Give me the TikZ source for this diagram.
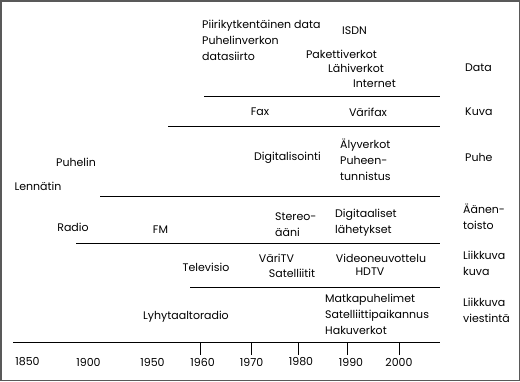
\documentclass[tikz,border=0pt]{standalone}
\usepackage{fontspec}
\setmainfont{Poppins}
\begin{document}
\begin{tikzpicture}[x=1pt,y=-1pt,font=\fontsize{11}{16}\selectfont,
  txt/.style={inner sep=0pt},
  blk/.style={inner sep=0pt,anchor=west,align=left},
  era/.style={line width=0.8pt},
  yr/.style={inner sep=0pt}]
\useasboundingbox (0,0) rectangle (520,381);
\draw[gray!70!black,line width=1.5pt] (0.75,0.75) rectangle (519.25,380.25);
% dividers between the fields
\draw[era] (204,96) -- (440,96);
\draw[era] (168,126) -- (440,126);
\draw[era] (100,196) -- (440,196);
\draw[era] (76,243) -- (440,243);
\draw[era] (190,287) -- (440,287);
\draw[era] (13,342) -- (440,342);
% time axis
\foreach \x in {200,251,298,347,399} {\draw[era] (\x,342) -- (\x,355);}
\foreach \x/\y in {27.5/1850,88.5/1900,152.5/1950,202.5/1960,251.5/1970,301/1980,351/1990,399/2000}
  {\node[yr] (y\y) at (\x,362) {\y};}
% Data
\node[blk] (piiri) at (202,40) {Piirikytkentäinen data\\Puhelinverkon\\datasiirto};
\node[txt] (isdn) at (354.5,31) {ISDN};
\node[txt] (paketti) at (341.5,54) {Pakettiverkot};
\node[txt] (lahi) at (356,68) {Lähiverkot};
\node[txt] (inet) at (374.5,84) {Internet};
\node[blk] (data) at (465,68) {Data};
% Kuva
\node[txt] (fax) at (260,112) {Fax};
\node[txt] (varifax) at (368,112) {Värifax};
\node[blk] (kuva) at (465,112) {Kuva};
% Puhe
\node[txt] (puhelin) at (76,162) {Puhelin};
\node[txt] (lennatin) at (38,186) {Lennätin};
\node[txt] (digi) at (287.5,158) {Digitalisointi};
\node[blk] (aly) at (340,160) {Älyverkot\\Puheen-\\tunnistus};
\node[blk] (puhe) at (465,157) {Puhe};
% Äänentoisto
\node[txt] (radio) at (73,227) {Radio};
\node[txt] (fm) at (160.5,230) {FM};
\node[blk] (stereo) at (275,225) {Stereo-\\ääni};
\node[blk] (digilah) at (335,223) {Digitaaliset\\lähetykset};
\node[blk] (aanen) at (463,217) {Äänen-\\toisto};
% Liikkuva kuva
\node[txt] (tv) at (206,267) {Televisio};
\node[txt] (varitv) at (276.5,258) {VäriTV};
\node[txt] (sat) at (292,273) {Satelliitit};
\node[txt] (video) at (381,258) {Videoneuvottelu};
\node[txt] (hdtv) at (370,272) {HDTV};
\node[blk] (lkuva) at (463,263) {Liikkuva\\kuva};
% Liikkuva viestintä
\node[txt] (lyhyt) at (186,317) {Lyhytaaltoradio};
\node[blk] (matka) at (325,314) {Matkapuhelimet\\Satelliittipaikannus\\Hakuverkot};
\node[blk] (lviest) at (463,310) {Liikkuva\\viestintä};
\end{tikzpicture}
\end{document}
